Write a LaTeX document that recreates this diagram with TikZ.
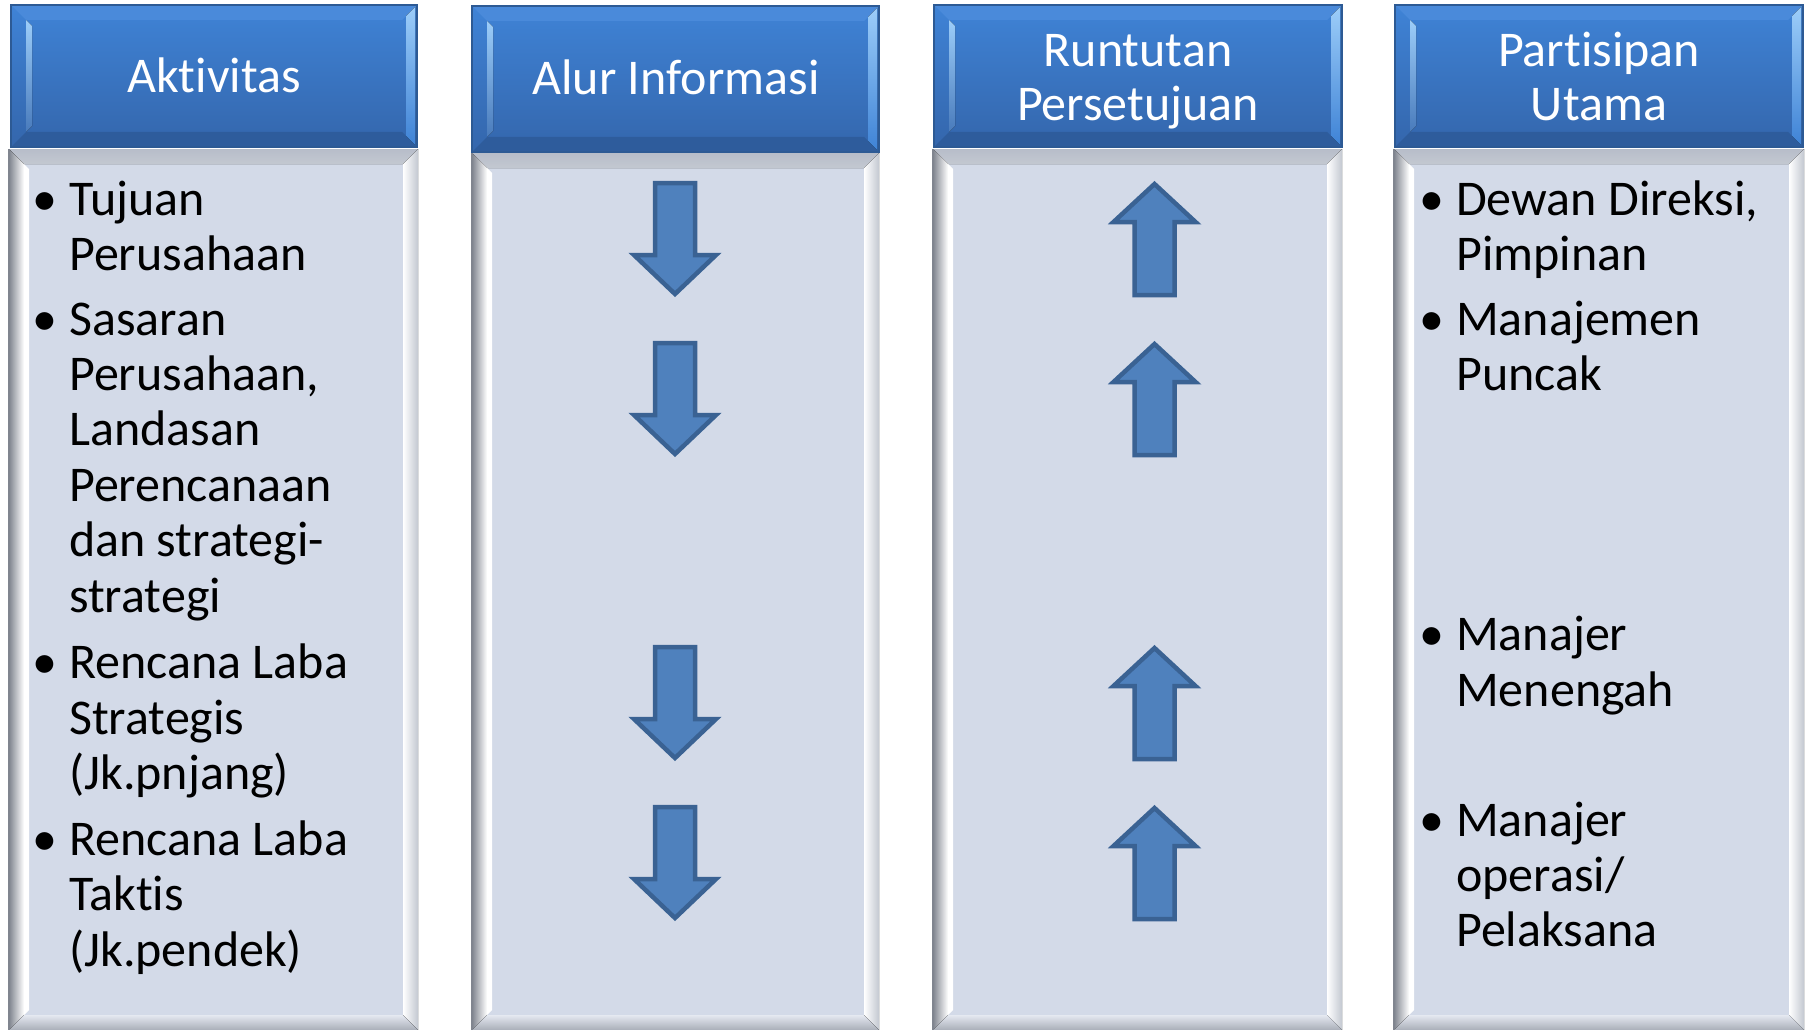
\documentclass[tikz,border=0pt]{standalone}
\usepackage{fontspec}
\setmainfont{Carlito}[RawFeature={-liga;-clig;-calt;-dlig}]
\begin{document}
\begin{tikzpicture}[x=1pt,y=-1pt]
\definecolor{hdtop}{HTML}{3F83D6}
\definecolor{hdbot}{HTML}{3466AC}
\definecolor{hdtopface}{HTML}{4A8ADA}
\definecolor{hdbotface}{HTML}{2E5C9C}
\definecolor{hdlite}{HTML}{9CCDF9}
\definecolor{hdedge}{HTML}{2D5A94}
\definecolor{bdfill}{HTML}{D3DAE8}
\definecolor{bdtopface}{HTML}{B7BDC9}
\definecolor{bddark}{HTML}{80858F}
\definecolor{bdmid}{HTML}{C3C8D1}
\definecolor{bdbot}{HTML}{A9AEB8}
\definecolor{arfill}{HTML}{4F81BD}
\definecolor{aredge}{HTML}{3A6293}
\tikzset{
  txt/.style={inner sep=0pt, font=\fontsize{50}{55}\selectfont, text=black},
  hdtxt/.style={inner sep=0pt, font=\fontsize{50}{55}\selectfont, text=white, anchor=base},
  bul/.style={inner sep=0pt, font=\fontsize{50}{55}\selectfont, anchor=base},
  blockarrow/.style={fill=arfill, draw=aredge, line width=4.5pt, line join=miter},
}
\useasboundingbox (0,0) rectangle (1806,1030);
\fill[white] (0,0) rectangle (1806,1030);

% bevelled blue header: x0 y0 x1 y1
\newcommand\hdrbox[4]{%
  \fill[top color=hdtop, bottom color=hdbot] (#1,#2) rectangle (#3,#4);
  \fill[hdtopface] (#1,#2) -- (#3,#2) -- (#3-15,#2+15) -- (#1+15,#2+15) -- cycle;
  \fill[hdbotface] (#1,#4) -- (#3,#4) -- (#3-15,#4-15) -- (#1+15,#4-15) -- cycle;
  \fill[top color=hdlite, bottom color=hdbot!80!hdlite] (#1+15,#2+15) -- (#1+21,#2+21) -- (#1+21,#4-21) -- (#1+15,#4-15) -- cycle;
  \fill[top color=hdlite, bottom color=hdtop] (#3-11,#2+11) -- (#3-2,#2+2) -- (#3-2,#4-2) -- (#3-11,#4-11) -- cycle;
  \draw[hdedge, line width=1.2pt] (#1,#2) rectangle (#3,#4);
}
% bevelled grey body: x0 y0 x1 y1
\newcommand\bodybox[4]{%
  \fill[bdfill] (#1,#2) rectangle (#3,#4);
  \fill[top color=bdtopface, bottom color=bdmid] (#1,#2) -- (#3,#2) -- (#3-15,#2+15) -- (#1+15,#2+15) -- cycle;
  \fill[left color=bddark, right color=white] (#1,#2) -- (#1+15,#2+15) -- (#1+15,#4-15) -- (#1,#4) -- cycle;
  \fill[left color=white, right color=bdmid] (#3,#2) -- (#3-15,#2+15) -- (#3-15,#4-15) -- (#3,#4) -- cycle;
  \fill[top color=bdfill!60!white, bottom color=bdbot] (#1,#4) -- (#1+15,#4-15) -- (#3-15,#4-15) -- (#3,#4) -- cycle;
  \fill[white] (#1+15,#2+15) -- (#1+20,#2+20) -- (#1+20,#4-20) -- (#1+15,#4-15) -- cycle;
  \draw[bddark, line width=1.5pt] (#1,#4) -- (#1,#2);
}
% block arrows: centre x, top y
\newcommand\flowdown[2]{%
  \draw[blockarrow] (#1-20,#2+2) -- (#1+20,#2+2) -- (#1+20,#2+74) -- (#1+41,#2+74)
    -- (#1,#2+113) -- (#1-41,#2+74) -- (#1-20,#2+74) -- cycle;
}
\newcommand\flowup[2]{%
  \draw[blockarrow] (#1,#2+3) -- (#1+41,#2+41) -- (#1+20,#2+41) -- (#1+20,#2+114)
    -- (#1-20,#2+114) -- (#1-20,#2+41) -- (#1-41,#2+41) -- cycle;
}

% columns
\bodybox{9}{149}{418}{1030}
\hdrbox{11}{5}{417}{147}
\bodybox{472}{153}{879}{1030}
\hdrbox{472}{6}{879}{152}
\bodybox{933}{149}{1342}{1030}
\hdrbox{934}{5}{1342}{147}
\bodybox{1394}{149}{1804}{1030}
\hdrbox{1395}{5}{1803}{147}

% headings
\node[hdtxt] (h1) at (214,93) {Aktivitas};
\node[hdtxt] (h2) at (676,95) {Alur Informasi};
\node[hdtxt] (h3a) at (1138,67) {Runtutan};
\node[hdtxt] (h3b) at (1138,121) {Persetujuan};
\node[hdtxt] (h4a) at (1599,67) {Partisipan};
\node[hdtxt] (h4b) at (1599,121) {Utama};

% information flow (down) and approval sequence (up)
\flowdown{675}{181}
\flowdown{675}{341}
\flowdown{675}{645}
\flowdown{675}{805}
\flowup{1154.5}{181}
\flowup{1154.5}{341}
\flowup{1154.5}{645}
\flowup{1154.5}{805}

% activities
\node[bul] (b1) at (45,215) {•};
\node[bul] (b2) at (45,335) {•};
\node[bul] (b3) at (45,678) {•};
\node[bul] (b4) at (45,855) {•};
\node[txt, anchor=base west] (a1) at (69,215) {Tujuan};
\node[txt, anchor=base west] (a2) at (69,270) {Perusahaan};
\node[txt, anchor=base west] (a3) at (69,335) {Sasaran};
\node[txt, anchor=base west] (a4) at (69,390) {Perusahaan,};
\node[txt, anchor=base west] (a5) at (69,445) {Landasan};
\node[txt, anchor=base west] (a6) at (69,501) {Perencanaan};
\node[txt, anchor=base west] (a7) at (69,556) {dan strategi-};
\node[txt, anchor=base west] (a8) at (69,612) {strategi};
\node[txt, anchor=base west] (a9) at (69,678) {Rencana Laba};
\node[txt, anchor=base west] (a10) at (69,734) {Strategis};
\node[txt, anchor=base west] (a11) at (69,789) {(Jk.pnjang)};
\node[txt, anchor=base west] (a12) at (69,855) {Rencana Laba};
\node[txt, anchor=base west] (a13) at (69,910) {Taktis};
\node[txt, anchor=base west] (a14) at (69,966) {(Jk.pendek)};

% participants
\node[bul] (c1) at (1432,215) {•};
\node[bul] (c2) at (1432,335) {•};
\node[bul] (c3) at (1432,650) {•};
\node[bul] (c4) at (1432,836) {•};
\node[txt, anchor=base west] (p1) at (1456,215) {Dewan Direksi,};
\node[txt, anchor=base west] (p2) at (1456,270) {Pimpinan};
\node[txt, anchor=base west] (p3) at (1456,335) {Manajemen};
\node[txt, anchor=base west] (p4) at (1456,390) {Puncak};
\node[txt, anchor=base west] (p5) at (1456,650) {Manajer};
\node[txt, anchor=base west] (p6) at (1456,706) {Menengah};
\node[txt, anchor=base west] (p7) at (1456,836) {Manajer};
\node[txt, anchor=base west] (p8) at (1456,891) {operasi/};
\node[txt, anchor=base west] (p9) at (1456,946) {Pelaksana};
\end{tikzpicture}
\end{document}
